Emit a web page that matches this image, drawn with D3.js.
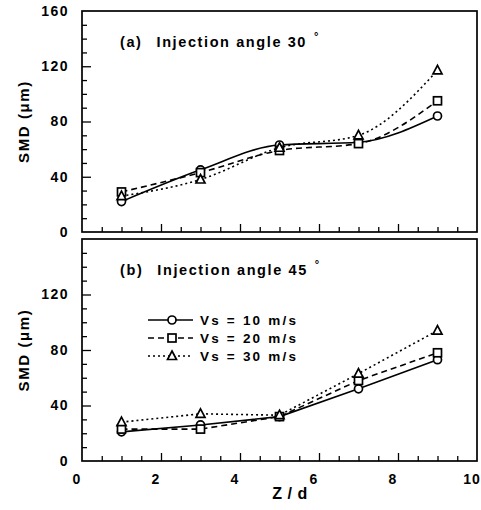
<!DOCTYPE html>
<html>
<head>
<meta charset="utf-8">
<script src="https://cdn.jsdelivr.net/npm/d3@7"></script>
<style>
  html, body { margin: 0; padding: 0; background: #fff; }
  svg text { font-family: "Liberation Sans", Arial, sans-serif; font-weight: bold; fill: #000; }
</style>
</head>
<body>
<svg id="chart" width="481" height="510"></svg>
<script>
// Z/d stations where SMD was measured
const zd = [1, 3, 5, 7, 9];

// Injection angle 30°
const smd30_v10 = [22, 45, 63, 65, 84];
const smd30_v20 = [29, 43, 59, 64, 95];
const smd30_v30 = [26, 38, 61, 70, 117];

// Injection angle 45°
const smd45_v10 = [21, 26, 32, 52, 73];
const smd45_v20 = [23, 23, 32, 58, 78];
const smd45_v30 = [28, 34, 33, 63, 94];

const seriesNames = ["Vs = 10 m/s", "Vs = 20 m/s", "Vs = 30 m/s"];
const yTicksTop = [0, 40, 80, 120, 160];
const yTicksBottom = [0, 40, 80, 120];
const xTickLabels = [0, 2, 4, 6, 8, 10];

const svg = d3.select("#chart");

const x = d3.scaleLinear().domain([0, 10]).range([82, 477]);

const styles = [
  { dash: null, marker: "circle" },
  { dash: "6,4", marker: "square" },
  { dash: "2,3", marker: "triangle" }
];

function drawMarker(g, type, cx, cy) {
  if (type === "circle") {
    g.append("circle").attr("cx", cx).attr("cy", cy).attr("r", 4)
      .attr("fill", "#fff").attr("stroke", "#000").attr("stroke-width", 1.7);
  } else if (type === "square") {
    g.append("rect").attr("x", cx - 4).attr("y", cy - 4).attr("width", 8).attr("height", 8)
      .attr("fill", "#fff").attr("stroke", "#000").attr("stroke-width", 1.7);
  } else {
    g.append("path").attr("d", `M${cx},${cy - 5}L${cx + 4.5},${cy + 3.5}L${cx - 4.5},${cy + 3.5}Z`)
      .attr("fill", "#fff").attr("stroke", "#000").attr("stroke-width", 1.7);
  }
}

function panel(top, bottom, data, curve, title, yLabels) {
  const y = d3.scaleLinear().domain([0, 160]).range([bottom, top]);
  const g = svg.append("g");

  // frame
  g.append("rect").attr("x", x(0)).attr("y", y(160))
    .attr("width", x(10) - x(0)).attr("height", y(0) - y(160))
    .attr("fill", "none").attr("stroke", "#000").attr("stroke-width", 1.7);

  // y minor / major ticks (inward)
  const yMinor = g.append("g").attr("transform", `translate(${x(0)},0)`)
    .call(d3.axisLeft(y).tickValues(d3.range(10, 160, 10).filter(v => v % 40 !== 0))
      .tickSize(-5).tickFormat(""));
  const yMajor = g.append("g").attr("transform", `translate(${x(0)},0)`)
    .call(d3.axisLeft(y).tickValues([40, 80, 120]).tickSize(-9).tickFormat(""));
  [yMinor, yMajor].forEach(a => {
    a.select(".domain").remove();
    a.selectAll("line").attr("stroke", "#000").attr("stroke-width", 1.3);
  });

  // y labels
  const yLab = g.append("g").attr("transform", `translate(${x(0)},0)`)
    .call(d3.axisLeft(y).tickValues(yLabels).tickSize(0).tickPadding(13));
  yLab.select(".domain").remove();
  yLab.selectAll("text").attr("font-size", 14).attr("font-family", "Liberation Sans, Arial, sans-serif")
    .attr("font-weight", "bold").attr("fill", "#000").attr("letter-spacing", 1.5);

  // x ticks (inward)
  const xMinor = g.append("g").attr("transform", `translate(0,${y(0)})`)
    .call(d3.axisBottom(x).tickValues(d3.range(0.5, 10, 0.5).filter(v => v % 2 !== 0))
      .tickSize(-5).tickFormat(""));
  const xMajor = g.append("g").attr("transform", `translate(0,${y(0)})`)
    .call(d3.axisBottom(x).tickValues([2, 4, 6, 8]).tickSize(-8).tickFormat(""));
  [xMinor, xMajor].forEach(a => {
    a.select(".domain").remove();
    a.selectAll("line").attr("stroke", "#000").attr("stroke-width", 1.3);
  });

  // series
  const line = d3.line().x(d => x(d[0])).y(d => y(d[1])).curve(curve);
  data.forEach((vals, i) => {
    const pts = zd.map((z, k) => [z, vals[k]]);
    g.append("path").datum(pts).attr("d", line)
      .attr("fill", "none").attr("stroke", "#000").attr("stroke-width", 1.6)
      .attr("stroke-dasharray", styles[i].dash);
  });
  data.forEach((vals, i) => {
    const mg = g.append("g");
    zd.forEach((z, k) => drawMarker(mg, styles[i].marker, x(z), y(vals[k])));
  });

  // title
  const t = g.append("text").attr("x", 120).attr("y", top + 36).attr("font-size", 14.5)
    .attr("letter-spacing", 1.6);
  t.append("tspan").text(title[0]);
  t.append("tspan").attr("dx", 14).text(title[1]);
  t.append("tspan").attr("dx", 7).attr("dy", -7).attr("font-size", 11).text("°");

  // y axis title
  g.append("text")
    .attr("transform", `translate(29,${(top + bottom) / 2}) rotate(-90)`)
    .attr("text-anchor", "middle").attr("font-size", 15).attr("letter-spacing", 1.6)
    .text("SMD (\u03bcm)");

  return y;
}

panel(11, 232, [smd30_v10, smd30_v20, smd30_v30], d3.curveMonotoneX,
  ["(a)", "Injection angle 30"], yTicksTop);
panel(239, 461, [smd45_v10, smd45_v20, smd45_v30], d3.curveLinear,
  ["(b)", "Injection angle 45"], yTicksBottom);

// x tick labels under the lower panel
svg.append("g").selectAll("text").data(xTickLabels).join("text")
  .attr("x", d => x(d) - 5).attr("y", 484)
  .attr("text-anchor", "middle").attr("font-size", 14).attr("letter-spacing", 1)
  .text(d => d);

svg.append("text").attr("x", 290).attr("y", 499).attr("text-anchor", "middle")
  .attr("font-size", 16).attr("letter-spacing", 0.5).text("Z / d");

// legend
const legend = svg.append("g");
const rows = [320, 338, 356];
seriesNames.forEach((name, i) => {
  legend.append("line").attr("x1", 148).attr("x2", 193).attr("y1", rows[i]).attr("y2", rows[i])
    .attr("stroke", "#000").attr("stroke-width", 1.5).attr("stroke-dasharray", styles[i].dash);
  drawMarker(legend, styles[i].marker, 172, rows[i]);
  legend.append("text").attr("x", 200).attr("y", rows[i] + 5)
    .attr("font-size", 13.5).attr("letter-spacing", 2.2).text(name);
});
</script>
</body>
</html>
